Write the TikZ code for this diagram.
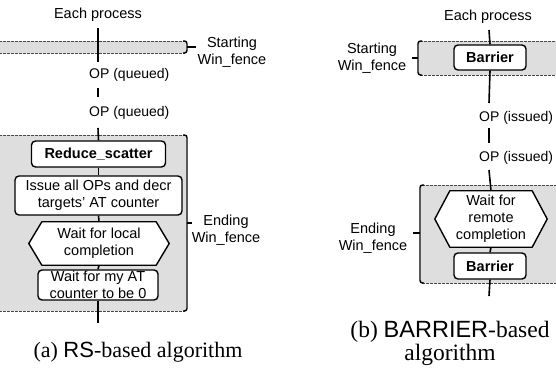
\documentclass[tikz,border=0pt]{standalone}
\usepackage{fontspec}
\setmainfont{Liberation Sans}
\newfontfamily\capserif{Liberation Serif}
\newfontfamily\capsans{Liberation Sans}
\usetikzlibrary{calc}
\pgfdeclarelayer{bg}
\pgfsetlayers{bg,main}
\definecolor{fencegray}{RGB}{222,222,222}
\definecolor{dashc}{RGB}{60,75,95}
\begin{document}
\begin{tikzpicture}[x=1pt,y=-1pt,
  lbl/.style={font=\fontsize{14.5}{17.5}\selectfont, inner sep=1pt, align=center},
  oplbl/.style={font=\fontsize{14}{17}\selectfont, inner sep=0pt, anchor=west},
  stepbox/.style={draw, line width=1.4pt, rounded corners=4pt, fill=white, inner sep=0pt, font=\fontsize{14.5}{17}\selectfont, align=center},
  hexlbl/.style={inner sep=0pt, font=\fontsize{14.5}{17}\selectfont, align=center},
  hexline/.style={draw, fill=white, line width=1.4pt, line join=round},
  proc/.style={line width=1.6pt},
  fencefill/.style={fill=fencegray},
  dashln/.style={draw=dashc, line width=0.7pt, dash pattern=on 2.5pt off 1.5pt},
  brk/.style={line width=1.4pt, rounded corners=2.5pt},
  captxt/.style={font=\capserif\fontsize{22}{23}\selectfont, inner sep=0pt, align=center}
]
\useasboundingbox (0,0) rectangle (556,371);

% ---------------- (a) ----------------
\node[lbl] (ea) at (98,15) {Each process};
\coordinate (a0) at (98,28);
\coordinate (a1) at (98,62);
\coordinate (a2) at (98,88);
\coordinate (a3) at (98,97);
\coordinate (a4) at (98,128);
\coordinate (a5) at (98,323);
\node[oplbl] (qa1) at (89,75) {OP (queued)};
\node[oplbl] (qa2) at (89,113) {OP (queued)};

\node[stepbox, minimum width=134pt, minimum height=26pt] (rs) at (98.5,154) {\bfseries Reduce\_scatter};
\node[stepbox, minimum width=167pt, minimum height=39pt] (iss) at (98.5,195.5) {Issue all OPs and decr\\targets' AT counter};
\node[hexlbl, minimum width=140pt, minimum height=43pt] (hexa) at (99,243.5) {Wait for local\\completion};
\node[stepbox, minimum width=120pt, minimum height=30pt] (wt) at (98,285) {Wait for my AT\\counter to be 0};

\node[lbl] (sa) at (232,52) {Starting\\Win\_fence};
\node[lbl] (ela) at (226,230) {Ending\\Win\_fence};
\coordinate (sbA) at (187,47);
\coordinate (stA) at (196,47);
\coordinate (ebA) at (187,223);
\coordinate (etA) at (192,223);

\begin{pgfonlayer}{bg}
  \fill[fencefill] (-5,41) rectangle (186,53);
  \draw[dashln] (-5,41) -- (185,41) (-5,53) -- (185,53);
  \draw[brk] (183,41) -- (187,41) -- (187,53) -- (183,53);
  \fill[fencefill] (-5,135) rectangle (186,311);
  \draw[dashln] (-5,135) -- (185,135) (-5,311) -- (185,311);
  \draw[brk] (183,135) -- (187,135) -- (187,311) -- (183,311);
  \draw[hexline] (hexa.west) -- ($(hexa.north west)+(13,0)$) -- ($(hexa.north east)+(-13,0)$) -- (hexa.east) -- ($(hexa.south east)+(-13,0)$) -- ($(hexa.south west)+(13,0)$) -- cycle;
\end{pgfonlayer}
\draw[line width=1.4pt] (sbA) -- (stA);
\draw[line width=1.4pt] (ebA) -- (etA);

\draw[proc] (a0) -- (a1);
\draw[proc] (a2) -- (a3);
\draw[proc] (a4) -- (rs.north);
\draw[proc] (rs.south) -- (iss.north);
\draw[proc] (iss.south) -- (hexa.north);
\draw[proc] (hexa.south) -- (wt.north);
\draw[proc] (wt.south) -- (a5);

\node[captxt] (capa) at (138,352) {(a) {\capsans RS}-based algorithm};

% ---------------- (b) ----------------
\node[lbl] (eb) at (488,17) {Each process};
\coordinate (b0) at (489,30);
\coordinate (b1) at (489,103);
\coordinate (b2) at (489,128);
\coordinate (b3) at (489,143);
\coordinate (b4) at (489,170);
\coordinate (b5) at (489,296);
\node[oplbl] (ib1) at (479,118) {OP (issued)};
\node[oplbl] (ib2) at (479,158) {OP (issued)};

\node[stepbox, minimum width=72pt, minimum height=25pt] (bar1) at (490,57.5) {\bfseries Barrier};
\node[hexlbl, minimum width=112pt, minimum height=56pt] (hexb) at (491,219) {Wait for\\remote\\completion};
\node[stepbox, minimum width=72pt, minimum height=26pt] (bar2) at (490,266) {\bfseries Barrier};

\node[lbl] (sb) at (372,58) {Starting\\Win\_fence};
\node[lbl] (ebl) at (373,238) {Ending\\Win\_fence};
\coordinate (sbB) at (418,58);
\coordinate (stB) at (412,58);
\coordinate (ebB) at (420,233);
\coordinate (etB) at (413,233);

\begin{pgfonlayer}{bg}
  \fill[fencefill] (419,41) rectangle (561,75);
  \draw[dashln] (420,41) -- (561,41) (420,75) -- (561,75);
  \draw[brk] (422,41) -- (418,41) -- (418,75) -- (422,75);
  \fill[fencefill] (421,185) rectangle (561,283);
  \draw[dashln] (422,185) -- (561,185) (422,283) -- (561,283);
  \draw[brk] (424,185) -- (420,185) -- (420,283) -- (424,283);
  \draw[hexline] (hexb.west) -- ($(hexb.north west)+(15,0)$) -- ($(hexb.north east)+(-15,0)$) -- (hexb.east) -- ($(hexb.south east)+(-15,0)$) -- ($(hexb.south west)+(15,0)$) -- cycle;
\end{pgfonlayer}
\draw[line width=1.4pt] (sbB) -- (stB);
\draw[line width=1.4pt] (ebB) -- (etB);

\draw[proc] (b0) -- (bar1.north);
\draw[proc] (bar1.south) -- (b1);
\draw[proc] (b2) -- (b3);
\draw[proc] (b4) -- (hexb.north);
\draw[proc] (hexb.south) -- (bar2.north);
\draw[proc] (bar2.south) -- (b5);

\node[captxt, font=\capserif\fontsize{23.5}{23}\selectfont] (capb) at (450,343.5) {(b) {\capsans BARRIER}-based\\algorithm};
\end{tikzpicture}
\end{document}
